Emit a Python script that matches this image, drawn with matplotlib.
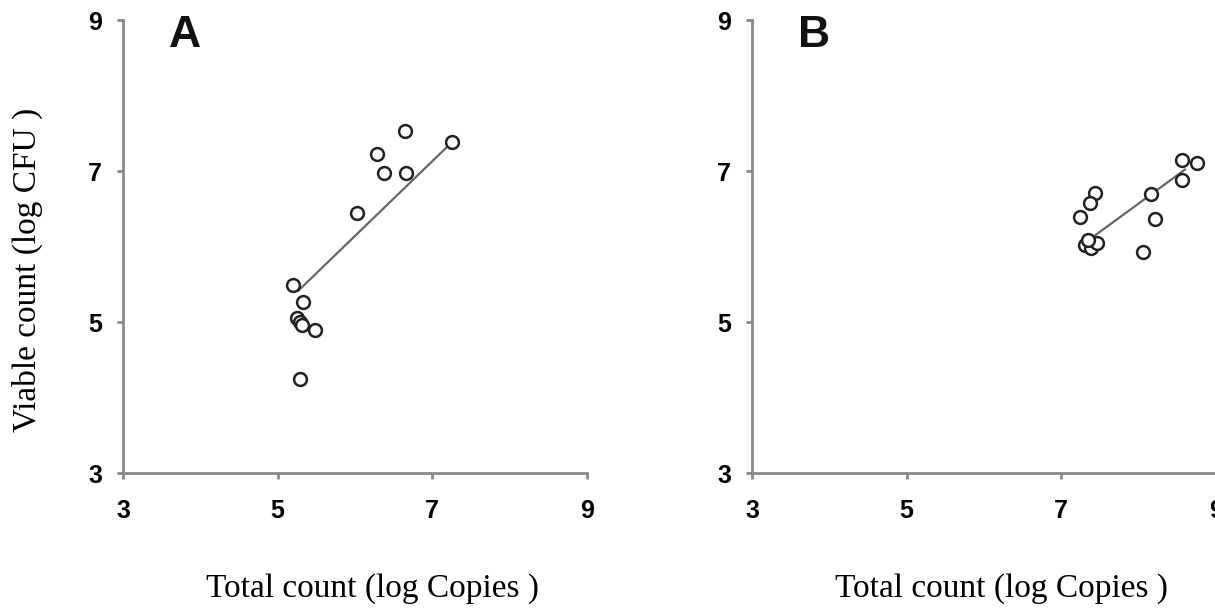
import numpy as np
import matplotlib
matplotlib.use("Agg")
import matplotlib.pyplot as plt

# panel A: total count vs viable count
xa = [6.65, 7.26, 6.29, 6.37, 6.66, 6.03, 5.20, 5.33, 5.25, 5.29, 5.31, 5.48, 5.29]
ya = [7.53, 7.39, 7.22, 6.97, 6.97, 6.45, 5.49, 5.27, 5.05, 5.00, 4.96, 4.89, 4.25]
# trend line as drawn in the figure: slope, intercept, x from, x to
fitA = [0.99, 0.20, 5.27, 7.24]

# panel B
xb = [8.56, 8.75, 8.56, 7.44, 7.37, 7.24, 8.16, 8.21, 8.06, 7.31, 7.39, 7.46, 7.35]
yb = [7.14, 7.10, 6.88, 6.71, 6.57, 6.39, 6.70, 6.37, 5.93, 6.02, 5.98, 6.05, 6.08]
fitB = [0.75, 0.57, 7.39, 8.60]

ticks = [3, 5, 7, 9]
spine_col = "#8a8a8a"

fig = plt.figure(figsize=(12.15, 6.09), dpi=100)
axA = fig.add_axes([0.1012, 0.2233, 0.3819, 0.7438])
axB = fig.add_axes([0.6189, 0.2233, 0.3819, 0.7438])


def panel(ax, x, y, fit, letter):
    ax.scatter(x, y, s=85, facecolors="white", edgecolors="#222222",
               linewidths=1.8, zorder=3)
    k, b, x0, x1 = fit
    xs = np.array([x0, x1])
    ax.plot(xs, k * xs + b, color="#666666", lw=1.6, zorder=2)

    ax.set_xlim(3, 9)
    ax.set_ylim(3, 9)
    ax.set_xticks(ticks)
    ax.set_yticks(ticks)
    for s in ["top", "right"]:
        ax.spines[s].set_visible(False)
    for s in ["left", "bottom"]:
        ax.spines[s].set_color(spine_col)
        ax.spines[s].set_linewidth(2)
    ax.tick_params(axis="both", colors=spine_col, length=4, width=2,
                   labelcolor="black", labelsize=18)
    ax.tick_params(axis="x", pad=15)
    ax.tick_params(axis="y", pad=11)
    for t in ax.get_xticklabels() + ax.get_yticklabels():
        t.set_fontfamily("Liberation Sans")
        t.set_fontweight("bold")
    lab = ax.set_xlabel("Total count (log Copies )", fontfamily="Liberation Serif",
                        fontsize=24)
    ax.xaxis.set_label_coords(0.537, -0.256)
    lab.set_va("center")
    ax.text(0.134, 0.966, letter, transform=ax.transAxes, ha="center",
            va="center", fontsize=32, fontweight="bold",
            fontfamily="Liberation Sans", color="#111111")
    ax.set_facecolor("none")


panel(axA, xa, ya, fitA, "A")
panel(axB, xb, yb, fitB, "B")
ylab = axA.set_ylabel("Viable count (log CFU )", fontfamily="Liberation Serif",
                      fontsize=24)
axA.yaxis.set_label_coords(-0.205, 0.448)
ylab.set_va("center")

fig.savefig("out.png", dpi=100)
